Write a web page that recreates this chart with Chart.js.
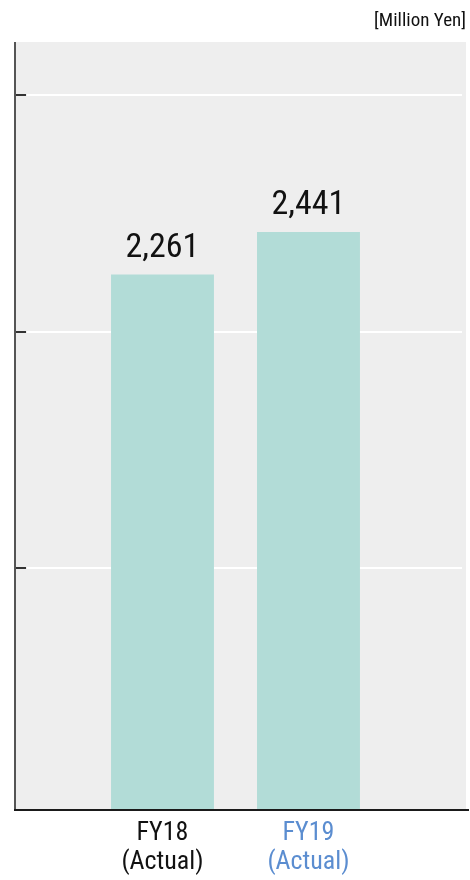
<!DOCTYPE html>
<html>
<head>
<meta charset="utf-8">
<script src="https://cdn.jsdelivr.net/npm/chart.js@4"></script>
<style>
html,body{margin:0;padding:0;background:#ffffff;}
#wrap{width:470px;height:880px;position:relative;}
</style>
</head>
<body>
<div id="wrap"><canvas id="c" width="470" height="880"></canvas></div>
<script>
// ---- data ----
const categories = ['FY18', 'FY19'];
const subLabels = ['(Actual)', '(Actual)'];
const salesValues = [2261, 2441];
const gridTickValues = [1020, 2020, 3020];
const unitLabel = '[Million Yen]';

// ---- style ----
const FONT = "'Liberation Sans Narrow', 'Roboto Condensed', 'Arial Narrow', 'Liberation Sans', sans-serif";
const BAR_COLOR = '#b2dcd7';
const BG_COLOR = '#eeeeee';
const LABEL_COLORS = ['#111111', '#5b8dd0'];

const decor = {
  id: 'decor',
  beforeDatasetsDraw(chart) {
    const {ctx, chartArea: a, scales: {y}} = chart;
    ctx.save();
    ctx.fillStyle = BG_COLOR;
    ctx.fillRect(a.left, a.top, a.right - a.left, a.bottom - a.top);
    gridTickValues.forEach(v => {
      const py = Math.round(y.getPixelForValue(v));
      ctx.fillStyle = '#ffffff';
      ctx.fillRect(a.left + 12, py - 1, a.right - a.left - 16, 2);
      ctx.fillStyle = '#333333';
      ctx.fillRect(a.left, py - 1, 11, 2);
    });
    ctx.restore();
  },
  afterDatasetsDraw(chart) {
    const {ctx, chartArea: a} = chart;
    ctx.save();
    // axes
    ctx.fillStyle = '#555555';
    ctx.fillRect(a.left - 1, a.top, 2, a.bottom - a.top);
    ctx.fillStyle = '#1a1a1a';
    ctx.fillRect(a.left - 1, a.bottom - 1, a.right - a.left + 4, 2);
    // value labels
    const meta = chart.getDatasetMeta(0);
    ctx.fillStyle = '#111111';
    ctx.font = '34px ' + FONT;
    ctx.textAlign = 'center';
    ctx.textBaseline = 'alphabetic';
    meta.data.forEach((bar, i) => {
      ctx.fillText(salesValues[i].toLocaleString('en-US'), bar.x, bar.y - 18);
    });
    // unit label
    ctx.font = '19px ' + FONT;
    ctx.textAlign = 'right';
    ctx.fillText(unitLabel, a.right, 26);
    ctx.restore();
  }
};

new Chart(document.getElementById('c'), {
  type: 'bar',
  data: {
    datasets: [{
      data: salesValues.map((v, i) => ({x: i + 1, y: v})),
      backgroundColor: BAR_COLOR,
      borderWidth: 0,
      categoryPercentage: 1,
      barPercentage: 0.705
    }]
  },
  options: {
    responsive: false,
    animation: false,
    devicePixelRatio: 1,
    layout: {padding: {left: 15, right: 4, top: 42, bottom: 0}},
    plugins: {legend: {display: false}, tooltip: {enabled: false}},
    scales: {
      x: {
        type: 'linear',
        offset: false,
        bounds: 'data',
        min: -0.0103,
        max: 3.079,
        grid: {display: false, drawTicks: false, offset: false},
        border: {display: false},
        afterBuildTicks(scale) {
          scale.ticks = categories.map((_, i) => ({value: i + 1}));
        },
        afterFit(scale) {
          scale.height = 70;
        },
        ticks: {
          autoSkip: false,
          padding: 9,
          font: {family: FONT, size: 26, lineHeight: 1.12},
          color: (ctx) => LABEL_COLORS[ctx.index] || '#111111',
          callback: (value) => {
            const i = Math.round(value) - 1;
            return [categories[i], subLabels[i]];
          }
        }
      },
      y: {
        display: false,
        min: 0,
        max: 3243
      }
    }
  },
  plugins: [decor]
});
</script>
</body>
</html>
